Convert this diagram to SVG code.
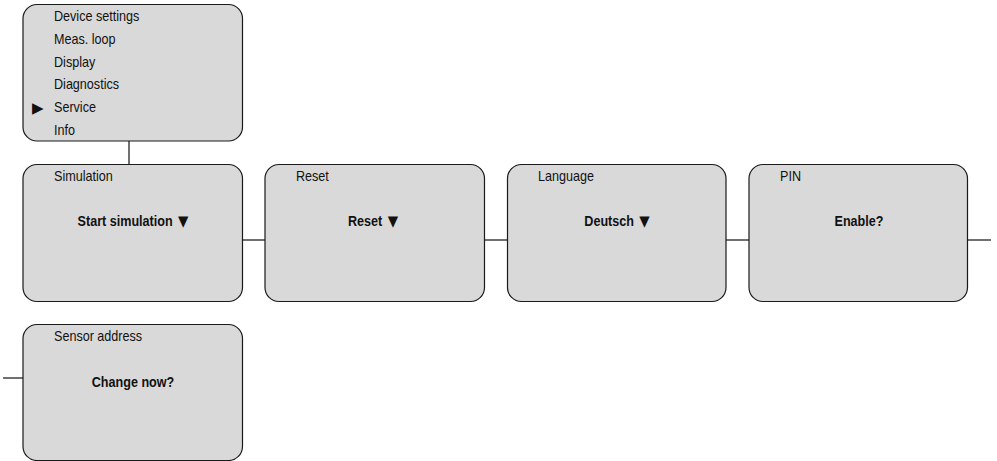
<svg xmlns="http://www.w3.org/2000/svg" width="997" height="461" viewBox="0 0 997 461">
<style>
.box{fill:#d9d9d9;stroke:#1a1a1a;stroke-width:1.2}
.t{font-family:"Liberation Sans",Arial,sans-serif;font-size:14px;fill:#111}
.b{font-family:"Liberation Sans",Arial,sans-serif;font-size:14px;font-weight:bold;fill:#111;text-anchor:middle}
.m{font-family:"DejaVu Sans",sans-serif;font-size:15px;fill:#111}
.tri{font-family:"DejaVu Sans",sans-serif;font-size:15px}
.c{stroke:#111;stroke-width:1.2;fill:none}
</style>
<rect width="997" height="461" fill="#ffffff"/>
<g id="connectors">
<line class="c" x1="129" y1="141" x2="129" y2="164.5"/>
<line class="c" x1="242.5" y1="240" x2="265" y2="240"/>
<line class="c" x1="484.5" y1="240" x2="507.5" y2="240"/>
<line class="c" x1="726" y1="240" x2="749" y2="240"/>
<line class="c" x1="967.5" y1="240" x2="991" y2="240"/>
<line class="c" x1="3" y1="378" x2="23" y2="378"/>
</g>
<g id="menu">
<rect class="box" x="23" y="4.5" width="219.5" height="136.5" rx="14"/>
<text class="m" x="32" y="113">▶</text>
<g transform="scale(0.9,1)">
<text class="t" x="60" y="21">Device settings</text>
<text class="t" x="60" y="44">Meas. loop</text>
<text class="t" x="60" y="66.7">Display</text>
<text class="t" x="60" y="89.3">Diagnostics</text>
<text class="t" x="60" y="112">Service</text>
<text class="t" x="60" y="134.7">Info</text>
</g>
</g>
<g id="simulation">
<rect class="box" x="23" y="164.5" width="219.5" height="137" rx="14"/>
<g transform="scale(0.9,1)">
<text class="t" x="60" y="181.5">Simulation</text>
<text class="b" x="147.78" y="225.7">Start simulation<tspan class="tri" dx="6">▼</tspan></text>
</g>
</g>
<g id="reset">
<rect class="box" x="265" y="164.5" width="219.5" height="137" rx="14"/>
<g transform="scale(0.9,1)">
<text class="t" x="328.89" y="181.5">Reset</text>
<text class="b" x="414.44" y="225.7">Reset<tspan class="tri" dx="6">▼</tspan></text>
</g>
</g>
<g id="language">
<rect class="box" x="507.5" y="164.5" width="218.5" height="137" rx="14"/>
<g transform="scale(0.9,1)">
<text class="t" x="597.78" y="181.5">Language</text>
<text class="b" x="685.56" y="225.7">Deutsch<tspan class="tri" dx="6">▼</tspan></text>
</g>
</g>
<g id="pin">
<rect class="box" x="749" y="164.5" width="218.5" height="137" rx="14"/>
<g transform="scale(0.9,1)">
<text class="t" x="866.67" y="181.5">PIN</text>
<text class="b" x="954.44" y="225.7">Enable?</text>
</g>
</g>
<g id="sensor-address">
<rect class="box" x="23" y="324.5" width="219.5" height="136" rx="14"/>
<g transform="scale(0.9,1)">
<text class="t" x="60" y="341.5">Sensor address</text>
<text class="b" x="147.78" y="387">Change now?</text>
</g>
</g>
</svg>
